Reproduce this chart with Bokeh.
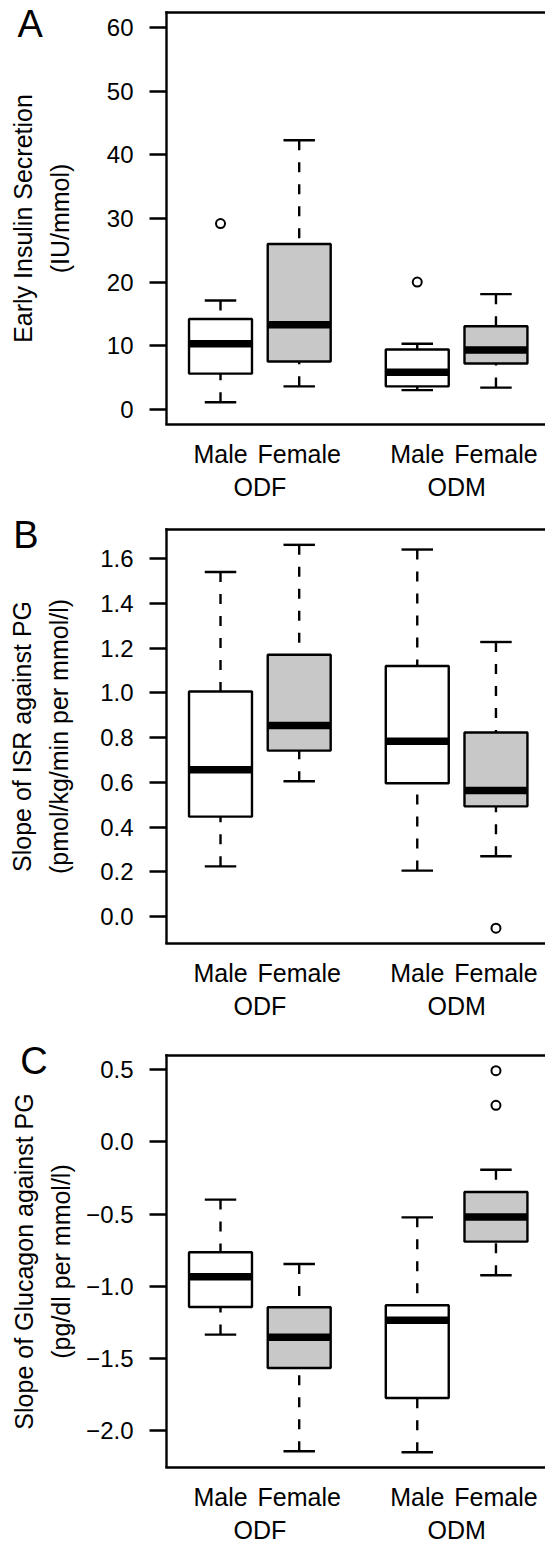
from bokeh.plotting import figure
from bokeh.models import (Range1d, LinearAxis, FixedTicker, CustomJSTickFormatter,
                          Label, ColumnDataSource)
from bokeh.layouts import column
from bokeh.embed import file_html
from bokeh.resources import INLINE

# ---------------- data ----------------
positions = [1.0, 2.0, 3.5, 4.5]
sex_labels = ["Male", "Female", "Male", "Female"]
group_positions = [1.5, 4.0]
group_labels = ["ODF", "ODM"]
box_fills = ["white", "#C8C8C8", "white", "#C8C8C8"]

# Panel A: Early Insulin Secretion (IU/mmol)
a_low = [1.1, 3.6, 3.0, 3.4]
a_q1 = [5.6, 7.5, 3.6, 7.2]
a_med = [10.3, 13.3, 5.8, 9.3]
a_q3 = [14.2, 26.0, 9.4, 13.05]
a_high = [17.1, 42.3, 10.3, 18.1]
a_out_x = [1.0, 3.5]
a_out_y = [29.2, 20.0]
a_ticks = [0, 10, 20, 30, 40, 50, 60]

# Panel B: Slope of ISR against PG
b_low = [0.225, 0.605, 0.206, 0.27]
b_q1 = [0.447, 0.742, 0.596, 0.493]
b_med = [0.656, 0.854, 0.784, 0.564]
b_q3 = [1.006, 1.17, 1.12, 0.823]
b_high = [1.54, 1.661, 1.64, 1.227]
b_out_x = [4.5]
b_out_y = [-0.051]
b_ticks = [0.0, 0.2, 0.4, 0.6, 0.8, 1.0, 1.2, 1.4, 1.6]

# Panel C: Slope of Glucagon against PG
c_low = [-1.335, -2.143, -2.150, -0.924]
c_q1 = [-1.144, -1.566, -1.774, -0.691]
c_med = [-0.934, -1.354, -1.236, -0.520]
c_q3 = [-0.765, -1.146, -1.132, -0.347]
c_high = [-0.40, -0.846, -0.523, -0.193]
c_out_x = [4.5, 4.5]
c_out_y = [0.493, 0.253]
c_ticks = [-2.0, -1.5, -1.0, -0.5, 0.0, 0.5]

FONT = "Liberation Sans"
LW = 2.4

# plot-region geometry (in data units of x): box-plot region spans X0..X1,
# the frame itself starts at the canvas' left edge so the panel letter fits inside it
X0, X1 = 0.3138, 5.1295
PX_PER_X = 379 / (X1 - X0)
XSTART = X0 - 166 / PX_PER_X


def padded(lo, hi):
    d = (hi - lo) * 0.04
    return lo - d, hi + d


def make_panel(letter, ylabel, low, q1, med, q3, high, out_x, out_y, ticks,
               ylim, decimals, height, btop, data_h, lab_standoff, letter_pos):
    ylo, yhi = ylim
    yend = yhi + btop * (yhi - ylo) / data_h
    p = figure(width=545, height=height,
               x_range=Range1d(XSTART, X1), y_range=Range1d(ylo, yend),
               output_backend="svg", toolbar_location=None,
               min_border_left=0, min_border_right=0, min_border_top=0,
               min_border_bottom=height - btop - data_h)
    p.xgrid.visible = False
    p.ygrid.visible = False
    p.outline_line_color = None
    p.background_fill_color = "white"
    p.border_fill_color = "white"

    src = ColumnDataSource(dict(
        x=positions, left=[v - 0.4 for v in positions], right=[v + 0.4 for v in positions],
        cl=[v - 0.2 for v in positions], cr=[v + 0.2 for v in positions],
        low=low, q1=q1, med=med, q3=q3, high=high, fill=box_fills))

    # whiskers (dashed, from whisker end to box)
    p.segment(x0="x", y0="high", x1="x", y1="q3", source=src, line_color="black",
              line_width=LW, line_dash="10 12", line_cap="butt")
    p.segment(x0="x", y0="low", x1="x", y1="q1", source=src, line_color="black",
              line_width=LW, line_dash="10 12", line_cap="butt")
    # staples
    p.segment(x0="cl", y0="high", x1="cr", y1="high", source=src, line_color="black", line_width=LW)
    p.segment(x0="cl", y0="low", x1="cr", y1="low", source=src, line_color="black", line_width=LW)
    # boxes
    p.quad(left="left", right="right", bottom="q1", top="q3", source=src,
           fill_color="fill", line_color="black", line_width=LW)
    # medians
    p.segment(x0="left", y0="med", x1="right", y1="med", source=src, line_color="black",
              line_width=7.5, line_cap="butt")
    # outliers
    p.scatter(x=out_x, y=out_y, marker="circle", size=9, fill_color=None,
              line_color="black", line_width=2)

    # y axis (drawn at the left edge of the box-plot region)
    ya = p.yaxis[0]
    ya.fixed_location = X0
    ya.bounds = (ylo, yhi)
    ya.ticker = FixedTicker(ticks=ticks)
    ya.formatter = CustomJSTickFormatter(args=dict(d=decimals), code="""
        const s = Math.abs(tick).toFixed(d);
        return (tick < 0 ? '\u2212' : '') + s;""")
    ya.major_tick_out = 17
    ya.major_tick_in = 0
    ya.major_tick_line_width = LW
    ya.minor_tick_line_color = None
    ya.axis_line_width = LW
    ya.axis_line_cap = "square"
    ya.major_label_standoff = 16
    ya.major_label_text_font = FONT
    ya.major_label_text_font_size = "24px"
    ya.major_label_text_color = "black"
    ya.axis_label = ylabel
    ya.axis_label_text_font = FONT
    ya.axis_label_text_font_size = "25px"
    ya.axis_label_text_font_style = "normal"
    ya.axis_label_text_color = "black"
    ya.axis_label_text_line_height = 1.32
    ya.axis_label_standoff = lab_standoff

    # x axis (sex)
    xa = p.xaxis[0]
    xa.bounds = (X0, X1)
    xa.ticker = FixedTicker(ticks=positions)
    xa.formatter = CustomJSTickFormatter(args=dict(pos=positions, labs=sex_labels),
                                         code="return labs[pos.indexOf(tick)];")
    xa.major_tick_out = 0
    xa.major_tick_in = 0
    xa.minor_tick_line_color = None
    xa.axis_line_width = LW
    xa.axis_line_cap = "square"
    xa.major_label_standoff = 15
    xa.major_label_text_font = FONT
    xa.major_label_text_font_size = "25px"
    xa.major_label_text_color = "black"

    # x axis (group)
    ga = LinearAxis(ticker=FixedTicker(ticks=group_positions),
                    formatter=CustomJSTickFormatter(args=dict(pos=group_positions, labs=group_labels),
                                                    code="return labs[pos.indexOf(tick)];"))
    ga.axis_line_color = None
    ga.major_tick_line_color = None
    ga.major_tick_out = 0
    ga.major_tick_in = 0
    ga.minor_tick_line_color = None
    ga.major_label_standoff = 2
    ga.major_label_text_font = FONT
    ga.major_label_text_font_size = "25px"
    ga.major_label_text_color = "black"
    p.add_layout(ga, "below")

    # top border line of the box-plot region
    ta = LinearAxis(ticker=FixedTicker(ticks=[]), fixed_location=yhi, bounds=(X0, X1))
    ta.axis_line_width = LW
    ta.axis_line_cap = "square"
    ta.major_tick_out = 0
    ta.major_tick_in = 0
    ta.minor_tick_line_color = None
    ta.major_label_standoff = 0
    ta.major_label_text_font_size = "0px"
    p.add_layout(ta, "above")

    # panel letter
    p.add_layout(Label(x=letter_pos[0], y=letter_pos[1], text=letter, text_font=FONT,
                       text_font_size="38px", text_baseline="middle",
                       text_align="left", text_color="black"))
    return p


pA = make_panel("A", "Early Insulin Secretion\n(IU/mmol)", a_low, a_q1, a_med, a_q3, a_high,
                a_out_x, a_out_y, a_ticks, (-2.4, 62.4), 0, 505, 12, 412, 30, (-1.58, 60.59))
pB = make_panel("B", "Slope of ISR against PG\n(pmol/kg/min per mmol/l)", b_low, b_q1, b_med, b_q3,
                b_high, b_out_x, b_out_y, b_ticks,
                padded(min(b_low + b_out_y), max(b_high + b_out_y)), 1, 528, 24, 414, 24, (-1.633, 1.703))
pC = make_panel("C", "Slope of Glucagon against PG\n(pg/dl per mmol/l)", c_low, c_q1, c_med, c_q3,
                c_high, c_out_x, c_out_y, c_ticks,
                padded(min(c_low + c_out_y), max(c_high + c_out_y)), 1, 513, 22, 413, 8, (-1.546, 0.557))

layout = column(pA, pB, pC)
open("out.html", "w").write(file_html(layout, INLINE))
